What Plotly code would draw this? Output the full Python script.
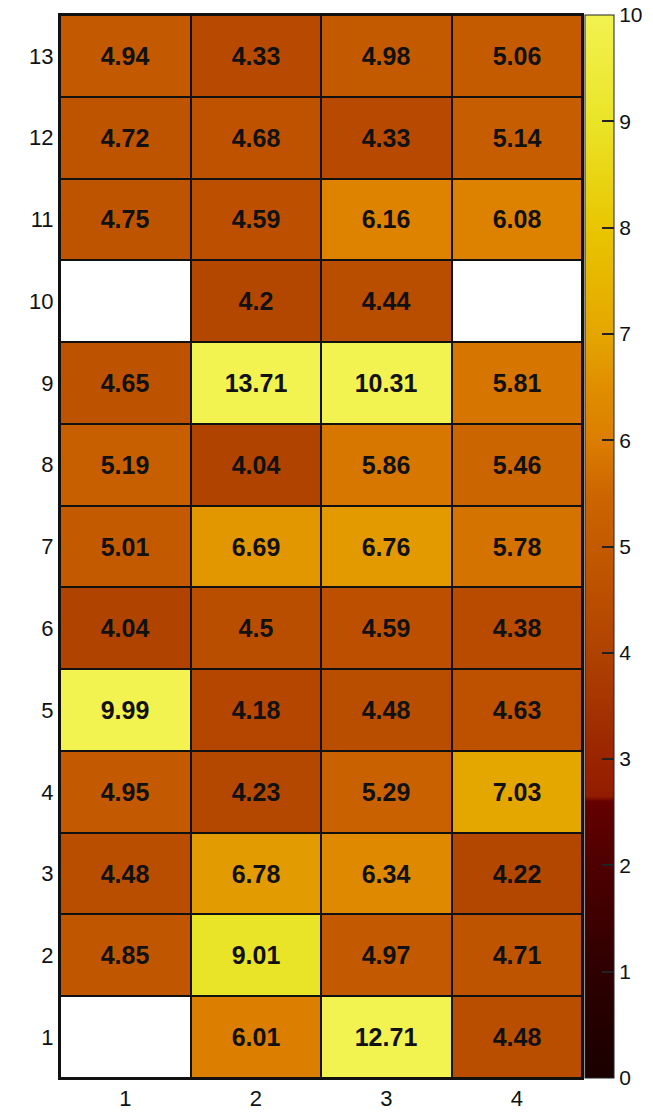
import plotly.graph_objects as go
import numpy as np

x_labels = [1, 2, 3, 4]
y_labels = list(range(1, 14))
cbar_ticks = [0, 1, 2, 3, 4, 5, 6, 7, 8, 9, 10]

# values per row (row 1 .. row 13), columns 1..4 ; None = empty
row1 = [None, 6.01, 12.71, 4.48]
row2 = [4.85, 9.01, 4.97, 4.71]
row3 = [4.48, 6.78, 6.34, 4.22]
row4 = [4.95, 4.23, 5.29, 7.03]
row5 = [9.99, 4.18, 4.48, 4.63]
row6 = [4.04, 4.5, 4.59, 4.38]
row7 = [5.01, 6.69, 6.76, 5.78]
row8 = [5.19, 4.04, 5.86, 5.46]
row9 = [4.65, 13.71, 10.31, 5.81]
row10 = [None, 4.2, 4.44, None]
row11 = [4.75, 4.59, 6.16, 6.08]
row12 = [4.72, 4.68, 4.33, 5.14]
row13 = [4.94, 4.33, 4.98, 5.06]

rows = [row1, row2, row3, row4, row5, row6, row7, row8, row9, row10, row11, row12, row13]
z = [[np.nan if v is None else v for v in r] for r in rows]
text = [["" if v is None else "<b>%s</b>" % ("%g" % v) for v in r] for r in rows]
missing = [[1 if v is None else np.nan for v in r] for r in rows]

colorscale = [
    [0.0, "#1a0000"], [0.1, "#2e0000"], [0.2, "#4e0000"], [0.26, "#640000"],
    [0.265, "#921c00"], [0.3, "#9a2400"], [0.4, "#b04200"], [0.45, "#ba4e00"],
    [0.5, "#c45a00"], [0.55, "#cc6600"], [0.6, "#dc7e00"], [0.65, "#e08e00"],
    [0.7, "#e4a600"], [0.8, "#e8c600"], [0.9, "#eae428"], [1.0, "#f2f250"],
]

font_fam = "Liberation Sans, Arial, sans-serif"
zmin, zmax = 0, 10

fig = go.Figure()
fig.add_trace(go.Heatmap(
    x=x_labels, y=y_labels, z=z, text=text, texttemplate="%{text}",
    textfont=dict(family=font_fam, size=25, color="#111"),
    colorscale=colorscale, zmin=zmin, zmax=zmax, xgap=2, ygap=2,
    hoverongaps=False,
    colorbar=dict(
        x=1.0057, xanchor="left", xpad=0, y=0, yanchor="bottom", len=1, ypad=0,
        thickness=29, outlinewidth=1, outlinecolor="#222",
        tickmode="array", tickvals=cbar_ticks, ticklabeloverflow="allow",
        ticks="inside", ticklen=12, tickcolor="#222", tickwidth=2,
        tickfont=dict(family=font_fam, size=21, color="#111"),
    ),
))
fig.add_trace(go.Heatmap(
    x=x_labels, y=y_labels, z=missing, colorscale=[[0, "white"], [1, "white"]],
    showscale=False, xgap=2, ygap=2, hoverinfo="skip",
))

fig.update_layout(
    width=653, height=1114,
    margin=dict(l=60, r=71, t=15, b=36, autoexpand=False),
    paper_bgcolor="white", plot_bgcolor="#111",
    showlegend=False,
)
axis_font = dict(family=font_fam, size=22, color="#111")
fig.update_xaxes(range=[0.5, 4.5], tickmode="array", tickvals=x_labels, ticks="",
                 showgrid=False, zeroline=False, showline=True, linecolor="#111",
                 linewidth=2, mirror=True, tickfont=axis_font, automargin=False)
fig.update_yaxes(range=[0.5, 13.5], tickmode="array", tickvals=y_labels, ticks="",
                 showgrid=False, zeroline=False, showline=True, linecolor="#111",
                 linewidth=2, mirror=True, tickfont=axis_font, automargin=False)

fig.write_html("out.html", config={"displayModeBar": False},
               post_script="document.body.style.margin='0';")
